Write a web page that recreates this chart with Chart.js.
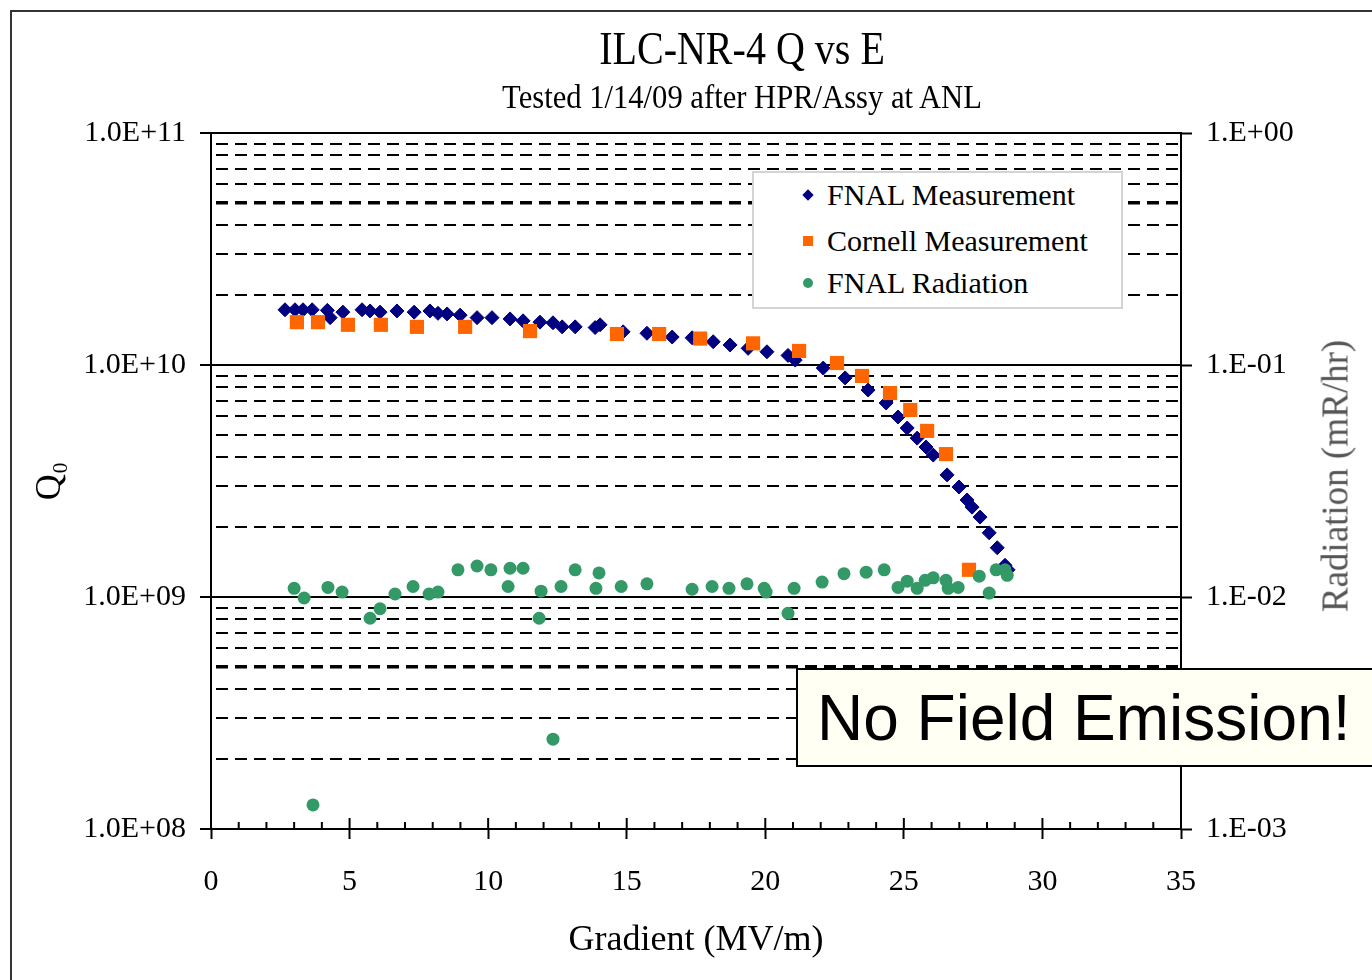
<!DOCTYPE html>
<html>
<head>
<meta charset="utf-8">
<script src="https://cdn.jsdelivr.net/npm/chart.js@4"></script>
<style>
	html, body { margin: 0; padding: 0; background: #fff; }
	#wrap { position: relative; width: 1372px; height: 980px; overflow: hidden; }
	#frame { position: absolute; left: 10px; top: 10px; width: 1400px; height: 1000px; border-left: 2px solid #333; border-top: 2px solid #333; }
	canvas { position: absolute; left: 0; top: 0; }
	.serif { font-family: "Liberation Serif", "Times New Roman", serif; color: #000; white-space: nowrap; position: absolute; }
	#title { left: 742px; top: 26px; font-size: 46px; line-height: 46px; transform: translateX(-50%) scaleX(0.87); }
	#subtitle { left: 742px; top: 80px; font-size: 34px; line-height: 34px; transform: translateX(-50%) scaleX(0.9); }
	#radTitle { left: 1335px; top: 476px; font-size: 37px; line-height: 37px; color: #555; transform: translate(-50%, -50%) rotate(-90deg); }
	#legend { position: absolute; left: 752px; top: 171px; width: 367px; height: 134px; background: #fff; border: 2px solid #d4d4d4; }
	.item { position: absolute; left: 0; height: 40px; line-height: 40px; font-size: 30px; white-space: nowrap; }
	.item span.mark { position: absolute; left: 49px; top: 15px; width: 10px; height: 10px; }
	.item span.txt { position: absolute; left: 73px; top: 0; white-space: nowrap; font-family: "Liberation Serif", serif; }
	#note { position: absolute; left: 796px; top: 668px; width: 600px; height: 99px; background: #fffff4; border: 2px solid #000; font-family: "Liberation Sans", Arial, sans-serif; font-size: 64px; line-height: 97px; padding-left: 19px; box-sizing: border-box; white-space: nowrap; }
</style>
</head>
<body>
<div id="wrap">
	<div id="frame"></div>
	<canvas id="qvse" width="1372" height="980"></canvas>
	<div id="title" class="serif">ILC-NR-4 Q vs E</div>
	<div id="subtitle" class="serif">Tested 1/14/09 after HPR/Assy at ANL</div>
	<div id="radTitle" class="serif">Radiation (mR/hr)</div>
	<div id="legend"></div>
	<div id="note">No Field Emission!</div>
</div>
<script>
// values
const fnalGradient = [2.67, 3.03, 3.32, 3.65, 4.2, 4.3, 4.76, 5.45, 5.74, 6.10, 6.71, 7.33, 7.90, 8.19, 8.52, 8.99, 9.60, 10.14, 10.79, 11.26, 11.87, 12.34, 12.67, 13.14, 13.86, 14.04, 14.87, 15.73, 16.64, 17.36, 18.12, 18.73, 19.38, 20.06, 20.82, 21.08, 22.09, 22.88, 23.71, 24.36, 24.79, 25.12, 25.48, 25.80, 26.06, 26.56, 26.99, 27.28, 27.46, 27.75, 28.08, 28.37, 28.65, 28.76];
const fnalQ0 = [1.73e10, 1.73e10, 1.73e10, 1.73e10, 1.72e10, 1.60e10, 1.69e10, 1.73e10, 1.71e10, 1.69e10, 1.71e10, 1.69e10, 1.71e10, 1.67e10, 1.66e10, 1.64e10, 1.60e10, 1.60e10, 1.58e10, 1.55e10, 1.53e10, 1.52e10, 1.46e10, 1.46e10, 1.45e10, 1.49e10, 1.39e10, 1.37e10, 1.32e10, 1.31e10, 1.26e10, 1.22e10, 1.18e10, 1.14e10, 1.10e10, 1.05e10, 9.7e9, 8.8e9, 7.8e9, 6.86e9, 5.97e9, 5.35e9, 4.84e9, 4.43e9, 4.09e9, 3.36e9, 2.98e9, 2.62e9, 2.44e9, 2.21e9, 1.89e9, 1.63e9, 1.37e9, 1.31e9];

const cornellGradient = [3.10, 3.86, 4.94, 6.13, 7.43, 9.17, 11.51, 14.65, 16.17, 17.65, 19.56, 21.22, 22.59, 23.49, 24.50, 25.23, 25.84, 26.52, 27.35];
const cornellQ0 = [1.53e10, 1.53e10, 1.49e10, 1.49e10, 1.46e10, 1.46e10, 1.40e10, 1.36e10, 1.36e10, 1.30e10, 1.24e10, 1.15e10, 1.02e10, 8.97e9, 7.57e9, 6.40e9, 5.20e9, 4.13e9, 1.31e9];

const radGradient = [3.00, 3.36, 3.68, 4.22, 4.73, 5.74, 6.10, 6.64, 7.29, 7.87, 8.19, 8.91, 9.60, 10.10, 10.72, 10.79, 11.26, 11.84, 11.91, 12.34, 12.63, 13.14, 13.89, 14.00, 14.80, 15.73, 17.36, 18.08, 18.69, 19.34, 19.96, 20.03, 20.82, 21.04, 22.05, 22.84, 23.64, 24.29, 24.79, 25.12, 25.48, 25.77, 26.06, 26.52, 26.60, 26.96, 27.72, 28.08, 28.33, 28.65, 28.73];
const radiation = [1.09e-2, 9.9e-3, 1.27e-3, 1.10e-2, 1.05e-2, 8.1e-3, 8.9e-3, 1.03e-2, 1.11e-2, 1.03e-2, 1.05e-2, 1.31e-2, 1.36e-2, 1.31e-2, 1.11e-2, 1.33e-2, 1.33e-2, 8.1e-3, 1.06e-2, 2.44e-3, 1.11e-2, 1.31e-2, 1.09e-2, 1.27e-2, 1.11e-2, 1.14e-2, 1.08e-2, 1.11e-2, 1.09e-2, 1.14e-2, 1.09e-2, 1.05e-2, 8.5e-3, 1.09e-2, 1.16e-2, 1.26e-2, 1.28e-2, 1.31e-2, 1.10e-2, 1.17e-2, 1.09e-2, 1.18e-2, 1.21e-2, 1.18e-2, 1.09e-2, 1.10e-2, 1.23e-2, 1.04e-2, 1.31e-2, 1.31e-2, 1.24e-2];

const xTickLabels = ["0", "5", "10", "15", "20", "25", "30", "35"];
const qDecades = [1e8, 1e9, 1e10, 1e11];
const qTickLabels = ["1.0E+08", "1.0E+09", "1.0E+10", "1.0E+11"];
const radDecades = [1e-3, 1e-2, 1e-1, 1];
const radTickLabels = ["1.E-03", "1.E-02", "1.E-01", "1.E+00"];
const minorSteps = [2, 3, 4, 5, 6, 7, 8, 9];
const boldGridValues = [5e8, 5e10]; // these two dashed lines are drawn heavier in the original

const serif = '"Liberation Serif", "Times New Roman", serif';
Chart.defaults.font.family = serif;
Chart.defaults.color = "#000";

const zip = (xs, ys) => xs.map((x, i) => ({ x: x, y: ys[i] }));

// gridline positions: every decade plus 2..9 inside it
const qTicks = [];
qDecades.forEach((d, i) => {
	qTicks.push({ value: d, label: qTickLabels[i], decade: true, bold: false });
	if (i < qDecades.length - 1) {
		minorSteps.forEach((m) => qTicks.push({ value: d * m, label: "", decade: false, bold: boldGridValues.includes(d * m) }));
	}
});

const xTicks = [];
for (let v = 0; v <= 35; v++) xTicks.push({ value: v });

const innerTicks = {
	id: "innerTicks",
	afterDraw(chart) {
		const { ctx, chartArea, scales } = chart;
		ctx.save();
		ctx.strokeStyle = "#000";
		ctx.lineWidth = 2;
		scales.x.ticks.forEach((t) => {
			const px = scales.x.getPixelForValue(t.value);
			const up = t.value % 5 === 0 ? 11 : 7;
			ctx.beginPath();
			ctx.moveTo(px, chartArea.bottom);
			ctx.lineTo(px, chartArea.bottom - up);
			ctx.stroke();
		});
		ctx.restore();
	},
};

const datasets = [
	{
		label: "FNAL Measurement",
		data: zip(fnalGradient, fnalQ0),
		yAxisID: "y",
		pointStyle: "rectRot",
		pointRadius: 7,
		backgroundColor: "#000080",
		borderColor: "#000080",
		borderWidth: 1,
		order: 3,
	},
	{
		label: "Cornell Measurement",
		data: zip(cornellGradient, cornellQ0),
		yAxisID: "y",
		pointStyle: "rect",
		pointRadius: 10,
		backgroundColor: "#ff6600",
		borderColor: "#ff6600",
		borderWidth: 0,
		order: 2,
	},
	{
		label: "FNAL Radiation",
		data: zip(radGradient, radiation),
		yAxisID: "y2",
		pointStyle: "circle",
		pointRadius: 6.5,
		backgroundColor: "#339966",
		borderColor: "#339966",
		borderWidth: 0,
		order: 1,
	},
];

const tickInfo = (c) => (c.tick ? qTicks[c.index] : null);

new Chart(document.getElementById("qvse"), {
	type: "scatter",
	data: { datasets: datasets },
	plugins: [innerTicks],
	options: {
		responsive: false,
		animation: false,
		devicePixelRatio: 1,
		layout: { padding: { left: 25, right: 16, top: 133, bottom: 14 } },
		plugins: { legend: { display: false }, tooltip: { enabled: false } },
		scales: {
			x: {
				type: "linear",
				min: 0,
				max: 35,
				afterBuildTicks: (s) => { s.ticks = xTicks.map((t) => ({ value: t.value })); },
				afterFit: (s) => { s.height = 137; },
				ticks: {
					autoSkip: false,
					maxRotation: 0,
					padding: 25,
					font: { size: 30 },
					callback: (v) => (v % 5 === 0 ? xTickLabels[v / 5] : ""),
				},
				grid: {
					drawOnChartArea: false,
					tickLength: 10,
					tickWidth: 2,
					tickColor: (c) => (c.tick && c.tick.value % 5 === 0 ? "#000" : "transparent"),
				},
				border: { display: true, color: "#000", width: 2 },
				title: { display: true, text: "Gradient (MV/m)", font: { size: 36 }, padding: { top: 4, bottom: 4 } },
			},
			y: {
				type: "logarithmic",
				position: "left",
				min: 1e8,
				max: 1e11,
				afterBuildTicks: (s) => { s.ticks = qTicks.map((t) => ({ value: t.value })); },
				afterFit: (s) => { s.width = 186; },
				ticks: {
					autoSkip: false,
					padding: 14,
					font: { size: 30 },
					callback: (v, i) => qTicks[i].label,
				},
				grid: {
					color: "#000",
					lineWidth: (c) => { const t = tickInfo(c); return t && t.bold ? 3.5 : 2; },
					tickLength: 11,
					tickWidth: 2,
					tickColor: (c) => { const t = tickInfo(c); return t && t.decade ? "#000" : "transparent"; },
				},
				border: {
					display: true,
					color: "#000",
					width: 2,
					dash: (c) => { const t = tickInfo(c); return t && !t.decade ? [12, 7] : []; },
					dashOffset: -4,
				},
				title: { display: true, text: "Q\u2080", font: { size: 36 }, padding: { top: 4, bottom: 4 } },
			},
			y2: {
				type: "logarithmic",
				position: "right",
				min: 1e-3,
				max: 1,
				afterBuildTicks: (s) => { s.ticks = radDecades.map((v) => ({ value: v })); },
				afterFit: (s) => { s.width = 175; },
				ticks: {
					autoSkip: false,
					padding: 14,
					font: { size: 30 },
					callback: (v, i) => radTickLabels[i],
				},
				grid: {
					drawOnChartArea: false,
					tickLength: 11,
					tickWidth: 2,
					tickColor: "#000",
				},
				border: { display: true, color: "#000", width: 2 },
			},
		},
	},
});

// legend in the plot, built from the datasets
const legend = document.getElementById("legend");
const rowTops = [2, 48, 90];
datasets.forEach((ds, i) => {
	const row = document.createElement("div");
	row.className = "item";
	row.style.top = rowTops[i] + "px";
	const mark = document.createElement("span");
	mark.className = "mark";
	mark.style.background = ds.backgroundColor;
	if (ds.pointStyle === "rectRot") mark.style.transform = "rotate(45deg) scale(0.8)";
	if (ds.pointStyle === "circle") mark.style.borderRadius = "50%";
	const txt = document.createElement("span");
	txt.className = "txt";
	txt.textContent = ds.label;
	row.appendChild(mark);
	row.appendChild(txt);
	legend.appendChild(row);
});
</script>
</body>
</html>
